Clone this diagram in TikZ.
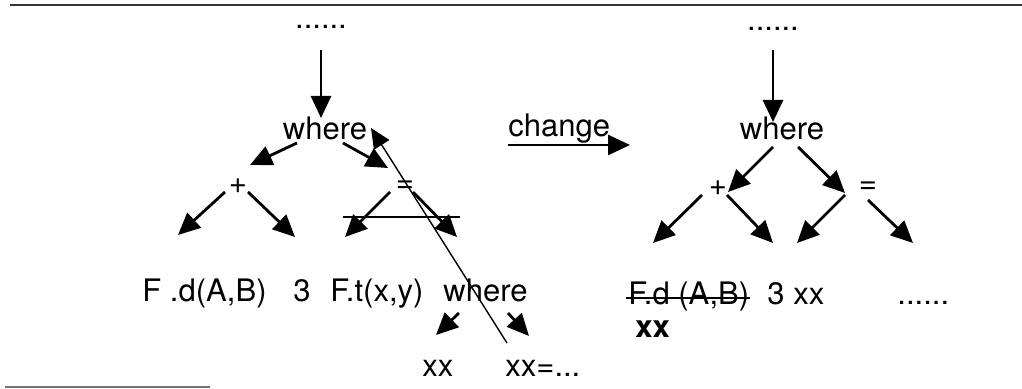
\documentclass[tikz,border=0pt]{standalone}
\usepackage{fontspec}
\setmainfont{TeX Gyre Heros}
\usetikzlibrary{arrows.meta}
\begin{document}
\begin{tikzpicture}[x=0.5pt,y=-0.5pt,
  lbl/.style={inner sep=0pt, font=\fontsize{15.5}{18}\selectfont},
  arr/.style={line width=1.4pt, -{Triangle[length=11pt,width=10pt]}},
  thinline/.style={line width=0.7pt},
  thinarr/.style={line width=0.7pt, -{Triangle[length=10pt,width=9pt]}},
  rulet/.style={line width=0.6pt, black!80},
  ruleb/.style={line width=0.6pt, black!55}]
\useasboundingbox (0,0) rectangle (1022,389);
% frame rules
\coordinate (t1) at (10,5); \coordinate (t2) at (1022,5);
\coordinate (b1) at (5,387); \coordinate (b2) at (210,387);
\draw[rulet] (t1) -- (t2);
\draw[ruleb] (b1) -- (b2);
% ---------- left tree ----------
\node[lbl, anchor=base] (ldots) at (321,29) {......};
\node[lbl, anchor=base] (lwhere) at (325,140) {where};
\node[lbl] (lplus) at (238,186) {+};
\node[lbl] (leq) at (405,187) {=};
\node[lbl, anchor=base west] (lfd) at (142,302) {F .d(A,B)};
\node[lbl, anchor=base west] (lthree) at (293,302) {3};
\node[lbl, anchor=base west] (lft) at (330,302) {F.t(x,y)};
\node[lbl, anchor=base west] (lwhere2) at (443,302) {where};
\node[lbl, anchor=base west] (lxx) at (422,377) {xx};
\node[lbl, anchor=base west] (lxxeq) at (505,377) {xx=...};
\coordinate (la0) at (321,50); \coordinate (la1) at (321,118);
\coordinate (lw1s) at (297,143); \coordinate (lw1e) at (250,165);
\coordinate (lw2s) at (343,143); \coordinate (lw2e) at (388,168);
\coordinate (lp1s) at (225,192); \coordinate (lp1e) at (178,235);
\coordinate (lp2s) at (248,192); \coordinate (lp2e) at (295,237);
\coordinate (le1s) at (390,192); \coordinate (le1e) at (345,237);
\coordinate (le2s) at (413,192); \coordinate (le2e) at (457,237);
\coordinate (ls1) at (343,217); \coordinate (ls2) at (460,217);
\coordinate (ld1) at (507,343); \coordinate (ld2) at (371,128);
\coordinate (lx1s) at (459,313); \coordinate (lx1e) at (436,335);
\coordinate (lx2s) at (508,313); \coordinate (lx2e) at (529,336);
\draw[arr] (la0) -- (la1);
\draw[arr] (lw1s) -- (lw1e);
\draw[arr] (lw2s) -- (lw2e);
\draw[arr] (lp1s) -- (lp1e);
\draw[arr] (lp2s) -- (lp2e);
\draw[arr] (le1s) -- (le1e);
\draw[arr] (le2s) -- (le2e);
\draw[arr] (lx1s) -- (lx1e);
\draw[arr] (lx2s) -- (lx2e);
\draw[thinline] (ls1) -- (ls2);
\draw[thinarr] (ld1) -- (ld2);
% ---------- change ----------
\node[lbl, anchor=base west] (chg) at (508,137) {change};
\coordinate (c1) at (508,145); \coordinate (c2) at (630,145);
\draw[arr] (c1) -- (c2);
% ---------- right tree ----------
\node[lbl, anchor=base] (rdots) at (773,31) {......};
\node[lbl, anchor=base] (rwhere) at (782,140) {where};
\node[lbl] (rplus) at (718,188) {+};
\node[lbl] (req) at (868,188) {=};
\node[lbl, anchor=base west] (rfd) at (628,305) {F.d (A,B)};
\node[lbl, anchor=base west] (rthree) at (767,305) {3 xx};
\node[lbl, anchor=base west, font=\fontsize{15.5}{18}\selectfont\bfseries] (rxx) at (635,338) {xx};
\node[lbl, anchor=base west] (rdots2) at (897,305) {......};
\draw[thinline] ([yshift=3.5pt,xshift=-1pt]rfd.base west) -- ([yshift=3.5pt]rfd.base east);
\coordinate (ra0) at (773,50); \coordinate (ra1) at (773,122);
\coordinate (rw1s) at (773,147); \coordinate (rw1e) at (728,192);
\coordinate (rw2s) at (798,147); \coordinate (rw2e) at (845,193);
\coordinate (rp1s) at (702,195); \coordinate (rp1e) at (653,243);
\coordinate (rp2s) at (727,195); \coordinate (rp2e) at (773,243);
\coordinate (rq1s) at (845,195); \coordinate (rq1e) at (797,243);
\coordinate (rq2s) at (868,200); \coordinate (rq2e) at (913,243);
\draw[arr] (ra0) -- (ra1);
\draw[arr] (rw1s) -- (rw1e);
\draw[arr] (rw2s) -- (rw2e);
\draw[arr] (rp1s) -- (rp1e);
\draw[arr] (rp2s) -- (rp2e);
\draw[arr] (rq1s) -- (rq1e);
\draw[arr] (rq2s) -- (rq2e);
\end{tikzpicture}
\end{document}
